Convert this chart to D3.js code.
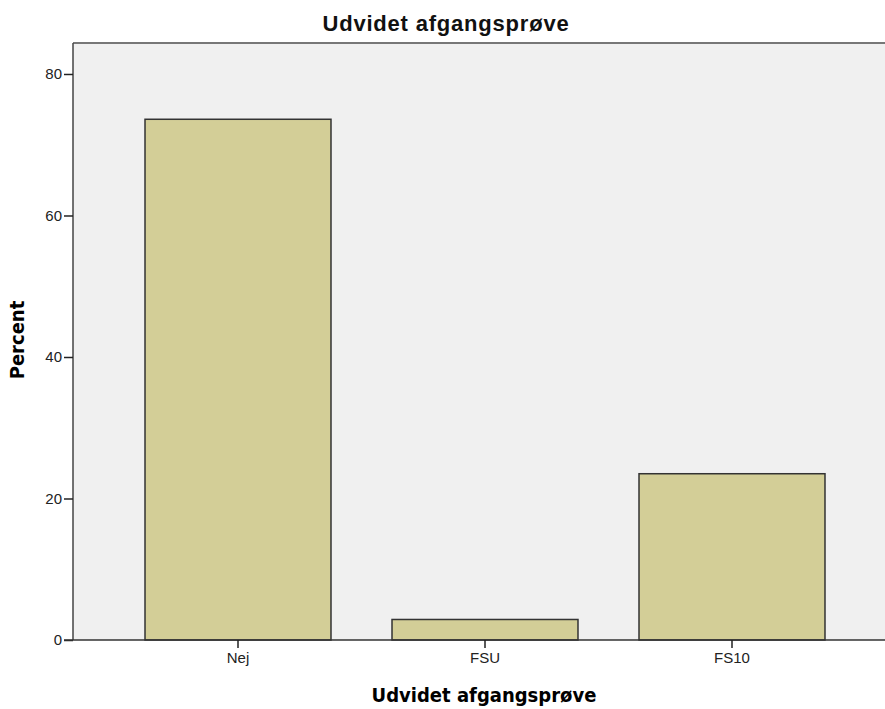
<!DOCTYPE html>
<html><head><meta charset="utf-8">
<script src="https://cdn.jsdelivr.net/npm/d3@7"></script>
<style>body{margin:0;background:#fff;}</style>
</head><body>
<svg id="chart" width="885" height="709"></svg>
<script>
const categories = ["Nej", "FSU", "FS10"];
const percentValues = [73.6, 2.9, 23.5];
const yTickValues = [0, 20, 40, 60, 80];
const chartTitle = "Udvidet afgangsprøve";
const xAxisTitle = "Udvidet afgangsprøve";
const yAxisTitle = "Percent";

const svg = d3.select("#chart");
const plot = {left: 73, top: 43, right: 885, bottom: 640};
const sans = "'Liberation Sans', Arial, sans-serif";
const cond = "'DejaVu Sans Condensed', 'DejaVu Sans', sans-serif";

const x = d3.scaleBand().domain(categories).range([114.5, 855.5]).paddingInner(0.247).paddingOuter(0.1235);
const y = d3.scaleLinear().domain([0, 84.38]).range([plot.bottom, plot.top]);

svg.append("rect").attr("x", plot.left).attr("y", plot.top)
  .attr("width", plot.right - plot.left).attr("height", plot.bottom - plot.top)
  .attr("fill", "#f0f0f0");
svg.append("line").attr("x1", plot.left).attr("x2", plot.right).attr("y1", plot.top).attr("y2", plot.top)
  .attr("stroke", "#777").attr("stroke-width", 2);

svg.append("g").selectAll("rect").data(categories).join("rect")
  .attr("x", d => x(d)).attr("width", x.bandwidth())
  .attr("y", (d, i) => y(percentValues[i]))
  .attr("height", (d, i) => y(0) - y(percentValues[i]))
  .attr("fill", "#d3ce97").attr("stroke", "#333").attr("stroke-width", 1.5);

const yAxis = svg.append("g").attr("transform", `translate(${plot.left},0)`)
  .call(d3.axisLeft(y).tickValues(yTickValues).tickSize(9).tickPadding(2).tickFormat(d3.format("d")));
yAxis.select(".domain").attr("stroke", "#444").attr("stroke-width", 1.5).attr("d", `M0,${plot.top}V${plot.bottom}`);
yAxis.selectAll(".tick line").attr("stroke", "#222").attr("stroke-width", 1.5);
yAxis.selectAll(".tick text").style("font-family", sans).style("font-size", "15px").attr("fill", "#222");

const xAxis = svg.append("g").attr("transform", `translate(0,${plot.bottom})`)
  .call(d3.axisBottom(x).tickSize(8).tickPadding(4));
xAxis.select(".domain").attr("stroke", "#333").attr("stroke-width", 1.5).attr("d", `M${plot.left - 9},0H${plot.right}`);
xAxis.selectAll(".tick line").attr("stroke", "#222").attr("stroke-width", 1.5);
xAxis.selectAll(".tick text").style("font-family", sans).style("font-size", "15px").attr("fill", "#222");

svg.append("text").attr("x", 446).attr("y", 31).attr("text-anchor", "middle")
  .style("font-family", sans).style("font-size", "22px").style("font-weight", "bold")
  .style("letter-spacing", "0.8px").attr("fill", "#111").text(chartTitle);
svg.append("text").attr("x", 484).attr("y", 702).attr("text-anchor", "middle")
  .style("font-family", cond).style("font-size", "20px").style("font-weight", "bold")
  .attr("fill", "#000").text(xAxisTitle);
svg.append("text").attr("transform", "translate(24,340) rotate(-90)").attr("text-anchor", "middle")
  .style("font-family", cond).style("font-size", "20px").style("font-weight", "bold")
  .attr("fill", "#000").text(yAxisTitle);
</script>
</body></html>
